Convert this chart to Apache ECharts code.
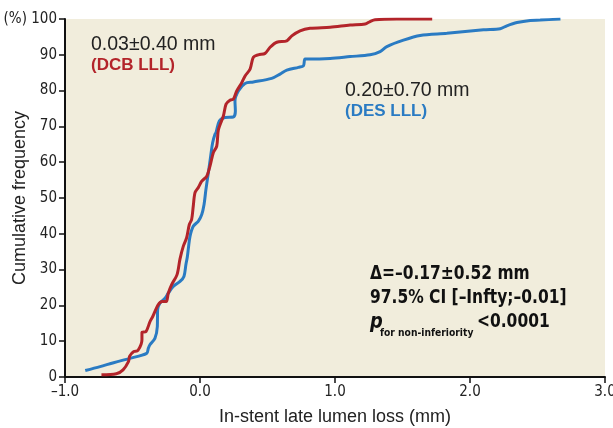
<!DOCTYPE html>
<html>
<head>
<meta charset="UTF-8">
<style>
  html, body { margin: 0; padding: 0; background: #ffffff; }
  #chart { width: 613px; height: 428px; }
</style>
</head>
<body>
<div id="chart"></div>
<script src="https://cdn.jsdelivr.net/npm/echarts@6/dist/echarts.min.js"></script>
<script>
  // late lumen loss (mm) vs cumulative frequency (%)
  var dcbLoss = [-0.73, -0.62, -0.57, -0.53, -0.52, -0.49, -0.46, -0.43, -0.43, -0.40, -0.37, -0.35, -0.31, -0.28, -0.25, -0.235, -0.21, -0.17, -0.148, -0.124, -0.099, -0.079, -0.062, -0.05, -0.037, -0.013, 0.013, 0.05, 0.074, 0.099, 0.124, 0.136, 0.173, 0.193, 0.222, 0.247, 0.272, 0.309, 0.334, 0.371, 0.395, 0.432, 0.482, 0.519, 0.569, 0.643, 0.68, 0.741, 0.815, 0.964, 1.112, 1.223, 1.26, 1.297, 1.458, 1.72];
  var dcbFreq = [0.6, 0.9, 2.0, 4.3, 5.9, 7.1, 7.4, 10.4, 12.4, 12.7, 15.5, 16.9, 20.2, 21.1, 21.1, 23.4, 25.8, 28.6, 33.0, 36.5, 38.9, 42.6, 44.0, 47.7, 51.5, 52.9, 54.7, 56.1, 58.9, 62.7, 64.5, 69.0, 72.9, 76.2, 77.3, 77.6, 79.9, 82.2, 84.1, 86.0, 89.3, 90.0, 90.4, 92.1, 93.5, 93.9, 95.3, 96.7, 97.4, 97.7, 98.3, 98.6, 99.3, 99.8, 100, 100];

  var desLoss = [-0.85, -0.74, -0.64, -0.52, -0.395, -0.383, -0.371, -0.334, -0.316, -0.314, -0.297, -0.259, -0.235, -0.198, -0.148, -0.119, -0.104, -0.094, -0.086, -0.074, -0.05, -0.013, 0.013, 0.03, 0.044, 0.062, 0.079, 0.094, 0.111, 0.119, 0.143, 0.185, 0.247, 0.262, 0.259, 0.284, 0.334, 0.395, 0.531, 0.593, 0.643, 0.729, 0.766, 0.778, 0.815, 0.964, 1.112, 1.26, 1.334, 1.384, 1.507, 1.631, 1.829, 2.1, 2.224, 2.273, 2.348, 2.446, 2.52, 2.67];
  var desFreq = [1.8, 2.9, 4.0, 5.2, 6.6, 8.0, 9.0, 10.8, 14.1, 18.8, 20.6, 22.0, 23.4, 25.3, 26.7, 28.1, 31.5, 33.5, 36.0, 39.3, 42.1, 43.5, 45.4, 48.2, 52.4, 57.1, 61.7, 65.5, 67.8, 68.3, 71.5, 72.5, 72.6, 74.3, 77.1, 79.9, 82.0, 82.4, 83.4, 84.6, 85.7, 86.5, 86.9, 88.8, 88.8, 89.0, 89.5, 90.0, 90.9, 92.3, 94.1, 95.4, 96.0, 97.0, 97.3, 98.1, 99.0, 99.6, 99.7, 100];

  var xTicks = [-1, 0, 1, 2, 3];
  var yTicks = [0, 10, 20, 30, 40, 50, 60, 70, 80, 90, 100];

  var red = '#b3242a';
  var blue = '#2a7bc3';
  var narrow = '"DejaVu Sans Condensed", "Roboto", sans-serif';
  var plain = 'Arial, "Liberation Sans", Helvetica, sans-serif';

  function pairs(xs, ys) {
    var out = [];
    for (var i = 0; i < xs.length; i++) out.push([xs[i], ys[i]]);
    return out;
  }

  // squeezed text for the condensed look of the original
  function note(x, y, text, font, fill, sx) {
    return {
      type: 'text', x: x, y: y, scaleX: sx || 1,
      style: { text: text, font: font, fill: fill, verticalAlign: 'top' }
    };
  }

  var chart = echarts.init(document.getElementById('chart'));
  var option = {
    animation: false,
    backgroundColor: '#ffffff',
    grid: {
      left: 65, right: 8, top: 19, bottom: 51,
      outerBoundsMode: 'none', containLabel: false,
      show: true, backgroundColor: '#f1eddc', borderWidth: 0
    },
    xAxis: {
      type: 'value',
      min: xTicks[0], max: xTicks[xTicks.length - 1], interval: 1,
      name: 'In-stent late lumen loss (mm)',
      nameLocation: 'middle', nameGap: 31, nameMoveOverlap: false,
      nameTextStyle: { fontFamily: plain, fontSize: 18, color: '#222' },
      axisLine: { onZero: false, lineStyle: { color: '#111', width: 2 } },
      axisTick: { show: true, length: 6, lineStyle: { color: '#111', width: 1.5 } },
      axisLabel: {
        fontFamily: narrow, fontSize: 15, color: '#222', margin: 8,
        formatter: function (v) { return (v < 0 ? '\u2013' : '') + Math.abs(v).toFixed(1); }
      },
      splitLine: { show: false }
    },
    yAxis: {
      type: 'value',
      min: yTicks[0], max: yTicks[yTicks.length - 1], interval: 10,
      name: 'Cumulative frequency',
      nameLocation: 'middle', nameGap: 36, nameRotate: 90, nameMoveOverlap: false,
      nameTextStyle: { fontFamily: plain, fontSize: 18, color: '#222' },
      axisLine: { show: true, onZero: false, lineStyle: { color: '#111', width: 2 } },
      axisTick: { show: true, length: 6, lineStyle: { color: '#111', width: 1.5 } },
      axisLabel: {
        fontFamily: narrow, fontSize: 15, color: '#222', margin: 8,
        formatter: function (v) { return v === 100 ? '(%) 100' : String(v); }
      },
      splitLine: { show: false }
    },
    series: [
      {
        name: 'DES LLL', type: 'line', data: pairs(desLoss, desFreq),
        showSymbol: false, smooth: 0.3,
        lineStyle: { color: blue, width: 3 }, z: 2
      },
      {
        name: 'DCB LLL', type: 'line', data: pairs(dcbLoss, dcbFreq),
        showSymbol: false, smooth: 0.3,
        lineStyle: { color: red, width: 3 }, z: 3
      }
    ],
    graphic: [
      note(91, 35, '0.03\u00b10.40 mm', '19.5px ' + plain, '#222'),
      note(91, 57, '(DCB LLL)', 'bold 17px ' + plain, red),
      note(345, 81, '0.20\u00b10.70 mm', '19.5px ' + plain, '#222'),
      note(345, 103, '(DES LLL)', 'bold 17px ' + plain, blue),
      note(370, 264, '\u0394=\u20130.17\u00b10.52 mm', 'bold 20px ' + narrow, '#111', 0.86),
      note(370, 288, '97.5% CI [\u2013Infty;\u20130.01]', 'bold 20px ' + narrow, '#111', 0.86),
      note(370, 311, 'p', 'italic bold 22px ' + narrow, '#111', 0.9),
      note(380, 328, 'for non-inferiority', 'bold 11px ' + narrow, '#111', 0.93),
      note(477, 312, '<0.0001', 'bold 20px ' + narrow, '#111', 0.86)
    ]
  };
  chart.setOption(option);
</script>
</body>
</html>
